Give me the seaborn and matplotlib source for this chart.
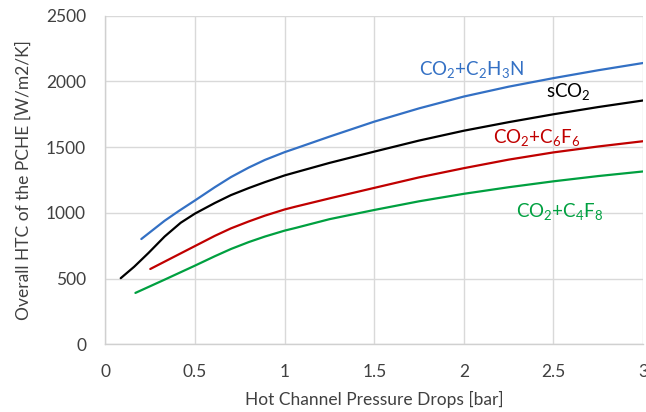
import matplotlib
matplotlib.use("Agg")
import matplotlib.pyplot as plt
import seaborn as sns
import pandas as pd

# Overall heat transfer coefficient vs hot-channel pressure drop
x_c2h3n = [0.2, 0.33, 0.41, 0.5, 0.61, 0.70, 0.80, 0.89, 1.0, 1.06, 1.25, 1.5, 1.75, 2.0, 2.25, 2.5, 2.75, 3.0]
y_c2h3n = [801, 940, 1015, 1095, 1195, 1272, 1345, 1403, 1462, 1490, 1580, 1694, 1795, 1885, 1960, 2025, 2085, 2140]

x_sco2 = [0.085, 0.16, 0.24, 0.33, 0.42, 0.5, 0.61, 0.70, 0.80, 0.89, 1.0, 1.06, 1.25, 1.5, 1.75, 2.0, 2.25, 2.5, 2.75, 3.0]
y_sco2 = [503, 590, 695, 820, 925, 995, 1075, 1135, 1189, 1234, 1285, 1308, 1380, 1466, 1550, 1625, 1690, 1750, 1805, 1855]

x_c6f6 = [0.25, 0.35, 0.5, 0.61, 0.70, 0.80, 0.89, 1.0, 1.06, 1.25, 1.5, 1.75, 2.0, 2.25, 2.5, 2.75, 3.0]
y_c6f6 = [573, 643, 748, 825, 882, 935, 979, 1026, 1047, 1110, 1190, 1270, 1340, 1405, 1460, 1505, 1545]

x_c4f8 = [0.167, 0.33, 0.5, 0.61, 0.70, 0.80, 0.89, 1.0, 1.06, 1.25, 1.5, 1.75, 2.0, 2.25, 2.5, 2.75, 3.0]
y_c4f8 = [391, 492, 599, 670, 725, 778, 820, 865, 885, 952, 1022, 1088, 1145, 1195, 1240, 1280, 1315]

series_names = ["CO2+C2H3N", "sCO2", "CO2+C6F6", "CO2+C4F8"]
series_labels = [r"CO$_2$+C$_2$H$_3$N", r"sCO$_2$", r"CO$_2$+C$_6$F$_6$", r"CO$_2$+C$_4$F$_8$"]
series_colors = ["#3370C4", "#000000", "#C00000", "#00A040"]
label_x = [1.75, 2.46, 2.16, 2.29]
label_y = [2049, 1880, 1530, 971]

x_ticks = [0, 0.5, 1, 1.5, 2, 2.5, 3]
x_tick_labels = ["0", "0.5", "1", "1.5", "2", "2.5", "3"]
y_ticks = [0, 500, 1000, 1500, 2000, 2500]

frames = []
for name, xs, ys in zip(series_names,
                        [x_c2h3n, x_sco2, x_c6f6, x_c4f8],
                        [y_c2h3n, y_sco2, y_c6f6, y_c4f8]):
    frames.append(pd.DataFrame({"dp": xs, "htc": ys, "fluid": name}))
df = pd.concat(frames, ignore_index=True)

sns.set_theme(style="white")
plt.rcParams["font.family"] = ["Lato", "DejaVu Sans"]
plt.rcParams["mathtext.fontset"] = "custom"
plt.rcParams["mathtext.rm"] = "Lato"
plt.rcParams["mathtext.default"] = "regular"

fig = plt.figure(figsize=(6.46, 4.12), dpi=100)
ax = fig.add_axes([0.1633, 0.1643, 0.8321, 0.7976])

sns.lineplot(data=df, x="dp", y="htc", hue="fluid", hue_order=series_names,
             palette=dict(zip(series_names, series_colors)), linewidth=1.6,
             sort=False, estimator=None, legend=False, ax=ax)
for line in ax.lines:
    line.set_solid_joinstyle("round")
    line.set_solid_capstyle("round")

for lbl, col, lx, ly in zip(series_labels, series_colors, label_x, label_y):
    ax.text(lx, ly, lbl, color=col, fontsize=13.5, ha="left", va="baseline")

ax.set_xlim(0, 3)
ax.set_ylim(0, 2500)
ax.set_xticks(x_ticks)
ax.set_xticklabels(x_tick_labels)
ax.set_yticks(y_ticks)
ax.grid(True, color="#d9d9d9", linewidth=1.0)
ax.set_axisbelow(True)
for side in ["top", "right"]:
    ax.spines[side].set_visible(False)
for side in ["left", "bottom"]:
    ax.spines[side].set_color("#d0d0d0")
    ax.spines[side].set_linewidth(1.0)
ax.tick_params(axis="both", length=0, labelsize=12.5, labelcolor="#404040")
ax.tick_params(axis="y", pad=14)
ax.tick_params(axis="x", pad=14)
ax.set_xlabel("Hot Channel Pressure Drops [bar]", fontsize=12.5, color="#404040", labelpad=8)
ax.set_ylabel("Overall HTC of the PCHE [W/m2/K]", fontsize=12.5, color="#404040", labelpad=10)

fig.savefig("out.png", dpi=100)
